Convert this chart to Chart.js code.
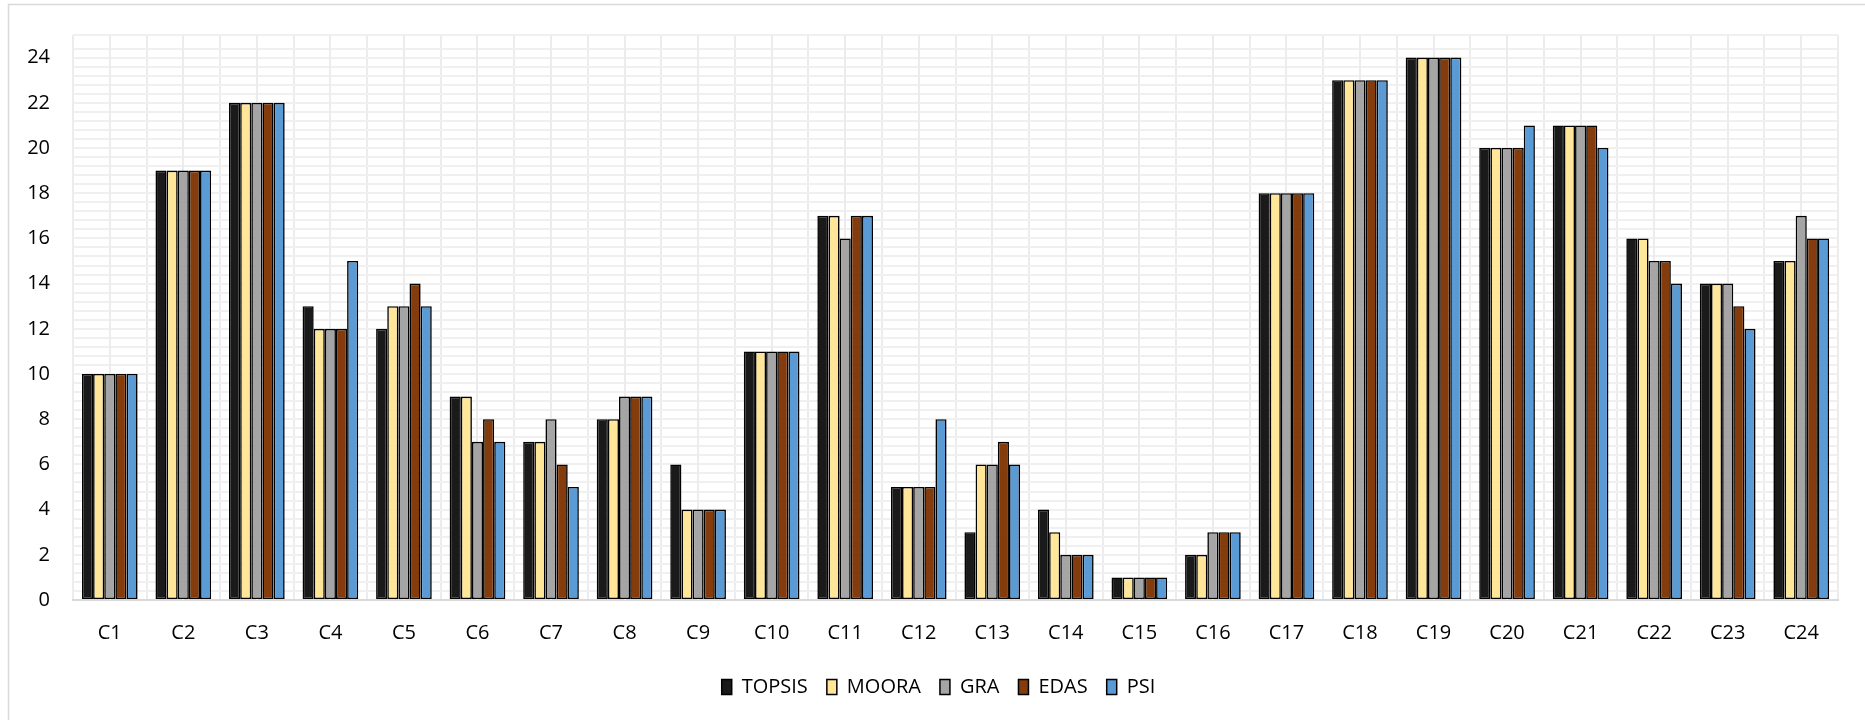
<!DOCTYPE html>
<html>
<head>
<meta charset="utf-8">
<script src="https://cdn.jsdelivr.net/npm/chart.js@4.4.1/dist/chart.umd.min.js"></script>
<style>
  html, body { margin: 0; padding: 0; background: #ffffff; }
  #wrap { position: relative; width: 1865px; height: 720px; }
  canvas { display: block; }
</style>
</head>
<body>
<div id="wrap"><canvas id="c" width="1865" height="720"></canvas></div>
<script>
// ---- data ----
const categories = ['C1','C2','C3','C4','C5','C6','C7','C8','C9','C10','C11','C12',
                    'C13','C14','C15','C16','C17','C18','C19','C20','C21','C22','C23','C24'];
const seriesNames = ['TOPSIS', 'MOORA', 'GRA', 'EDAS', 'PSI'];
const topsis = [10,19,22,13,12,9,7,8,6,11,17,5,3,4,1,2,18,23,24,20,21,16,14,15];
const moora  = [10,19,22,12,13,9,7,8,4,11,17,5,6,3,1,2,18,23,24,20,21,16,14,15];
const gra    = [10,19,22,12,13,7,8,9,4,11,16,5,6,2,1,3,18,23,24,20,21,15,14,17];
const edas   = [10,19,22,12,14,8,6,9,4,11,17,5,7,2,1,3,18,23,24,20,21,15,13,16];
const psi    = [10,19,22,15,13,7,5,9,4,11,17,8,6,2,1,3,18,23,24,21,20,14,12,16];
const yMax = 25;
const yMajorStep = 2;
const yMinorStep = 0.4;

// ---- styles ----
const colors = ['#1a1a1a', '#ffe699', '#a5a5a5', '#843c0c', '#5b9bd5'];
const seriesValues = [topsis, moora, gra, edas, psi];
const legendShift = -17;

const datasets = seriesNames.map((name, i) => ({
  label: name,
  data: seriesValues[i],
  backgroundColor: colors[i],
  borderColor: '#000000',
  borderWidth: 1.6,
  borderSkipped: false,
  categoryPercentage: 0.757,
  barPercentage: 1.0
}));

const frameAndCenters = {
  id: 'frameAndCenters',
  afterLayout(chart) {
    if (chart.legend) {
      chart.legend.left += legendShift;
      chart.legend.right += legendShift;
    }
  },
  beforeDraw(chart) {
    const ctx = chart.ctx;
    ctx.save();
    ctx.strokeStyle = '#d9d9d9';
    ctx.lineWidth = 1.5;
    ctx.beginPath();
    ctx.moveTo(8.5, 800);
    ctx.lineTo(8.5, 4.5);
    ctx.lineTo(1900, 4.5);
    ctx.stroke();
    ctx.restore();
  },
  beforeDatasetsDraw(chart) {
    const ctx = chart.ctx;
    const xs = chart.scales.x;
    const area = chart.chartArea;
    ctx.save();
    ctx.strokeStyle = '#ececec';
    ctx.lineWidth = 2;
    ctx.beginPath();
    for (let i = 0; i < categories.length; i++) {
      const px = Math.round(xs.getPixelForValue(i));
      ctx.moveTo(px, area.top);
      ctx.lineTo(px, area.bottom);
    }
    ctx.stroke();
    ctx.restore();
  }
};

new Chart(document.getElementById('c'), {
  type: 'bar',
  data: { labels: categories, datasets },
  plugins: [frameAndCenters],
  options: {
    responsive: false,
    animation: false,
    devicePixelRatio: 1,
    layout: { padding: { left: 0, right: 27, top: 35, bottom: 13 } },
    plugins: {
      tooltip: { enabled: false },
      legend: {
        display: true,
        position: 'bottom',
        fullSize: false,
        labels: {
          color: '#000000',
          font: { family: "'Open Sans', sans-serif", size: 20 },
          boxWidth: 10,
          boxHeight: 15,
          padding: 19,
          generateLabels(chart) {
            return chart.data.datasets.map((ds, i) => ({
              text: ds.label,
              fillStyle: ds.backgroundColor,
              strokeStyle: '#000000',
              lineWidth: 1.5,
              hidden: false,
              datasetIndex: i
            }));
          }
        }
      }
    },
    scales: {
      x: {
        afterFit(scale) { scale.height = scale.height - 8; },
        grid: {
          display: true,
          offset: true,
          color: '#ececec',
          lineWidth: 2,
          drawTicks: false
        },
        border: { display: true, color: '#d9d9d9', width: 2 },
        ticks: {
          color: '#000000',
          font: { family: "'Open Sans', sans-serif", size: 20 },
          padding: 21,
          maxRotation: 0,
          autoSkip: false
        }
      },
      y: {
        min: 0,
        max: yMax,
        afterFit(scale) { scale.width = 73; },
        grid: {
          color: '#f0f0f0',
          lineWidth: 2,
          drawTicks: false
        },
        border: { display: false },
        ticks: {
          stepSize: yMinorStep,
          autoSkip: false,
          color: '#000000',
          font: { family: "'Open Sans', sans-serif", size: 20 },
          padding: 23,
          callback(v) {
            const q = v / yMajorStep;
            return (Math.abs(q - Math.round(q)) < 1e-6 && v <= 24.0001) ? String(Math.round(v)) : '';
          }
        }
      }
    }
  }
});
</script>
</body>
</html>
